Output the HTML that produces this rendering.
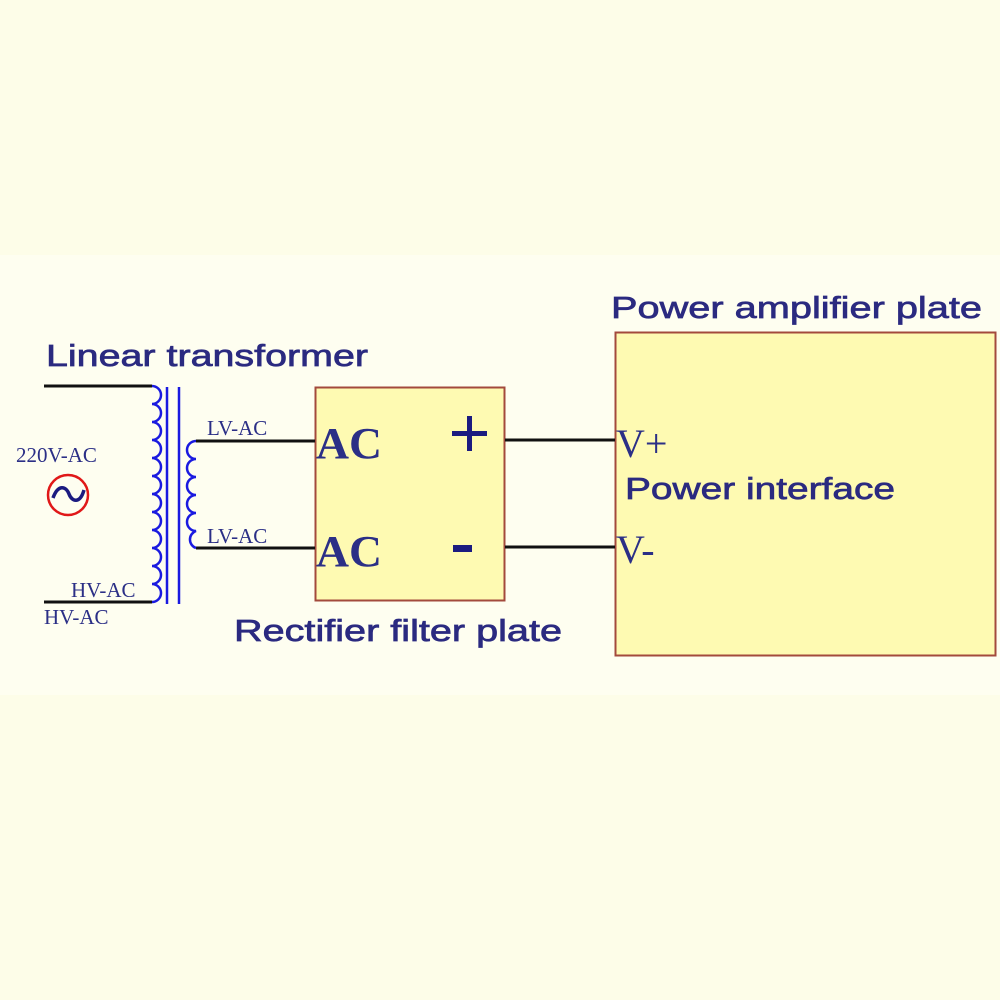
<!DOCTYPE html>
<html><head><meta charset="utf-8"><style>
html,body{margin:0;padding:0;background:#fdfde8;}
svg{display:block}
.t{font-family:"Liberation Sans",sans-serif;fill:#2b2a80;font-size:31px;stroke:#2b2a80;stroke-width:0.7}
.s{font-family:"Liberation Serif",serif;fill:#2b2f86}
</style></head><body>
<svg width="1000" height="1000" viewBox="0 0 1000 1000">
<rect width="1000" height="1000" fill="#fdfde8"/>
<rect x="0" y="255" width="1000" height="440" fill="#fefef0"/>
<rect x="315.5" y="387.5" width="189" height="213" fill="#fefab2" stroke="#a34a3c" stroke-width="2"/>
<rect x="615.5" y="332.5" width="380" height="323" fill="#fefab2" stroke="#a34a3c" stroke-width="2"/>
<g stroke="#111" stroke-width="3" fill="none">
<line x1="44" y1="386" x2="152" y2="386"/>
<line x1="44" y1="602" x2="152" y2="602"/>
<line x1="196" y1="441" x2="315" y2="441"/>
<line x1="196" y1="548" x2="315" y2="548"/>
<line x1="505" y1="440" x2="615" y2="440"/>
<line x1="505" y1="547" x2="615" y2="547"/>
</g>
<g stroke="#1a1ae0" stroke-width="2.5" fill="none">
<line x1="167" y1="387" x2="167" y2="604"/>
<line x1="179" y1="387" x2="179" y2="604"/>
<path d="M152 386 a9 9 0 0 1 0 18 a9 9 0 0 1 0 18 a9 9 0 0 1 0 18 a9 9 0 0 1 0 18 a9 9 0 0 1 0 18 a9 9 0 0 1 0 18 a9 9 0 0 1 0 18 a9 9 0 0 1 0 18 a9 9 0 0 1 0 18 a9 9 0 0 1 0 18 a9 9 0 0 1 0 18 a9 9 0 0 1 0 18"/>
<path d="M196 441 a9 9 0 0 0 0 18 a9 9 0 0 0 0 18 a9 9 0 0 0 0 18 a9 9 0 0 0 0 18 a9 9 0 0 0 0 18 a9 9 0 0 0 0 17"/>
</g>
<circle cx="68" cy="495" r="20" fill="none" stroke="#e01818" stroke-width="2.5"/>
<path d="M53 498 C58 484 66 486 69 494 C72 502 80 504 84 490" fill="none" stroke="#1b1b80" stroke-width="3.5"/>
<text x="46" y="366" class="t" textLength="322" lengthAdjust="spacingAndGlyphs">Linear transformer</text>
<text x="611" y="318" class="t" textLength="371" lengthAdjust="spacingAndGlyphs">Power amplifier plate</text>
<text x="234" y="641" class="t" textLength="328" lengthAdjust="spacingAndGlyphs">Rectifier filter plate</text>
<text x="625" y="499" class="t" textLength="270" lengthAdjust="spacingAndGlyphs">Power interface</text>
<text x="16" y="462" class="s" font-size="21">220V-AC</text>
<text x="207" y="435" class="s" font-size="21">LV-AC</text>
<text x="207" y="543" class="s" font-size="21">LV-AC</text>
<text x="71" y="597" class="s" font-size="21">HV-AC</text>
<text x="44" y="624" class="s" font-size="21">HV-AC</text>
<text x="316" y="458" class="s" font-size="44" font-weight="bold" fill="#1b1b80" textLength="66" lengthAdjust="spacingAndGlyphs">AC</text>
<text x="316" y="566" class="s" font-size="44" font-weight="bold" fill="#1b1b80" textLength="66" lengthAdjust="spacingAndGlyphs">AC</text>
<rect x="452" y="431" width="35" height="5" fill="#1b1b80"/>
<rect x="467" y="416" width="5" height="35" fill="#1b1b80"/>
<rect x="453" y="545" width="19" height="7" fill="#1b1b80"/>
<text x="616" y="457" class="s" font-size="40">V+</text>
<text x="616" y="563" class="s" font-size="40">V-</text>
</svg>
</body></html>
